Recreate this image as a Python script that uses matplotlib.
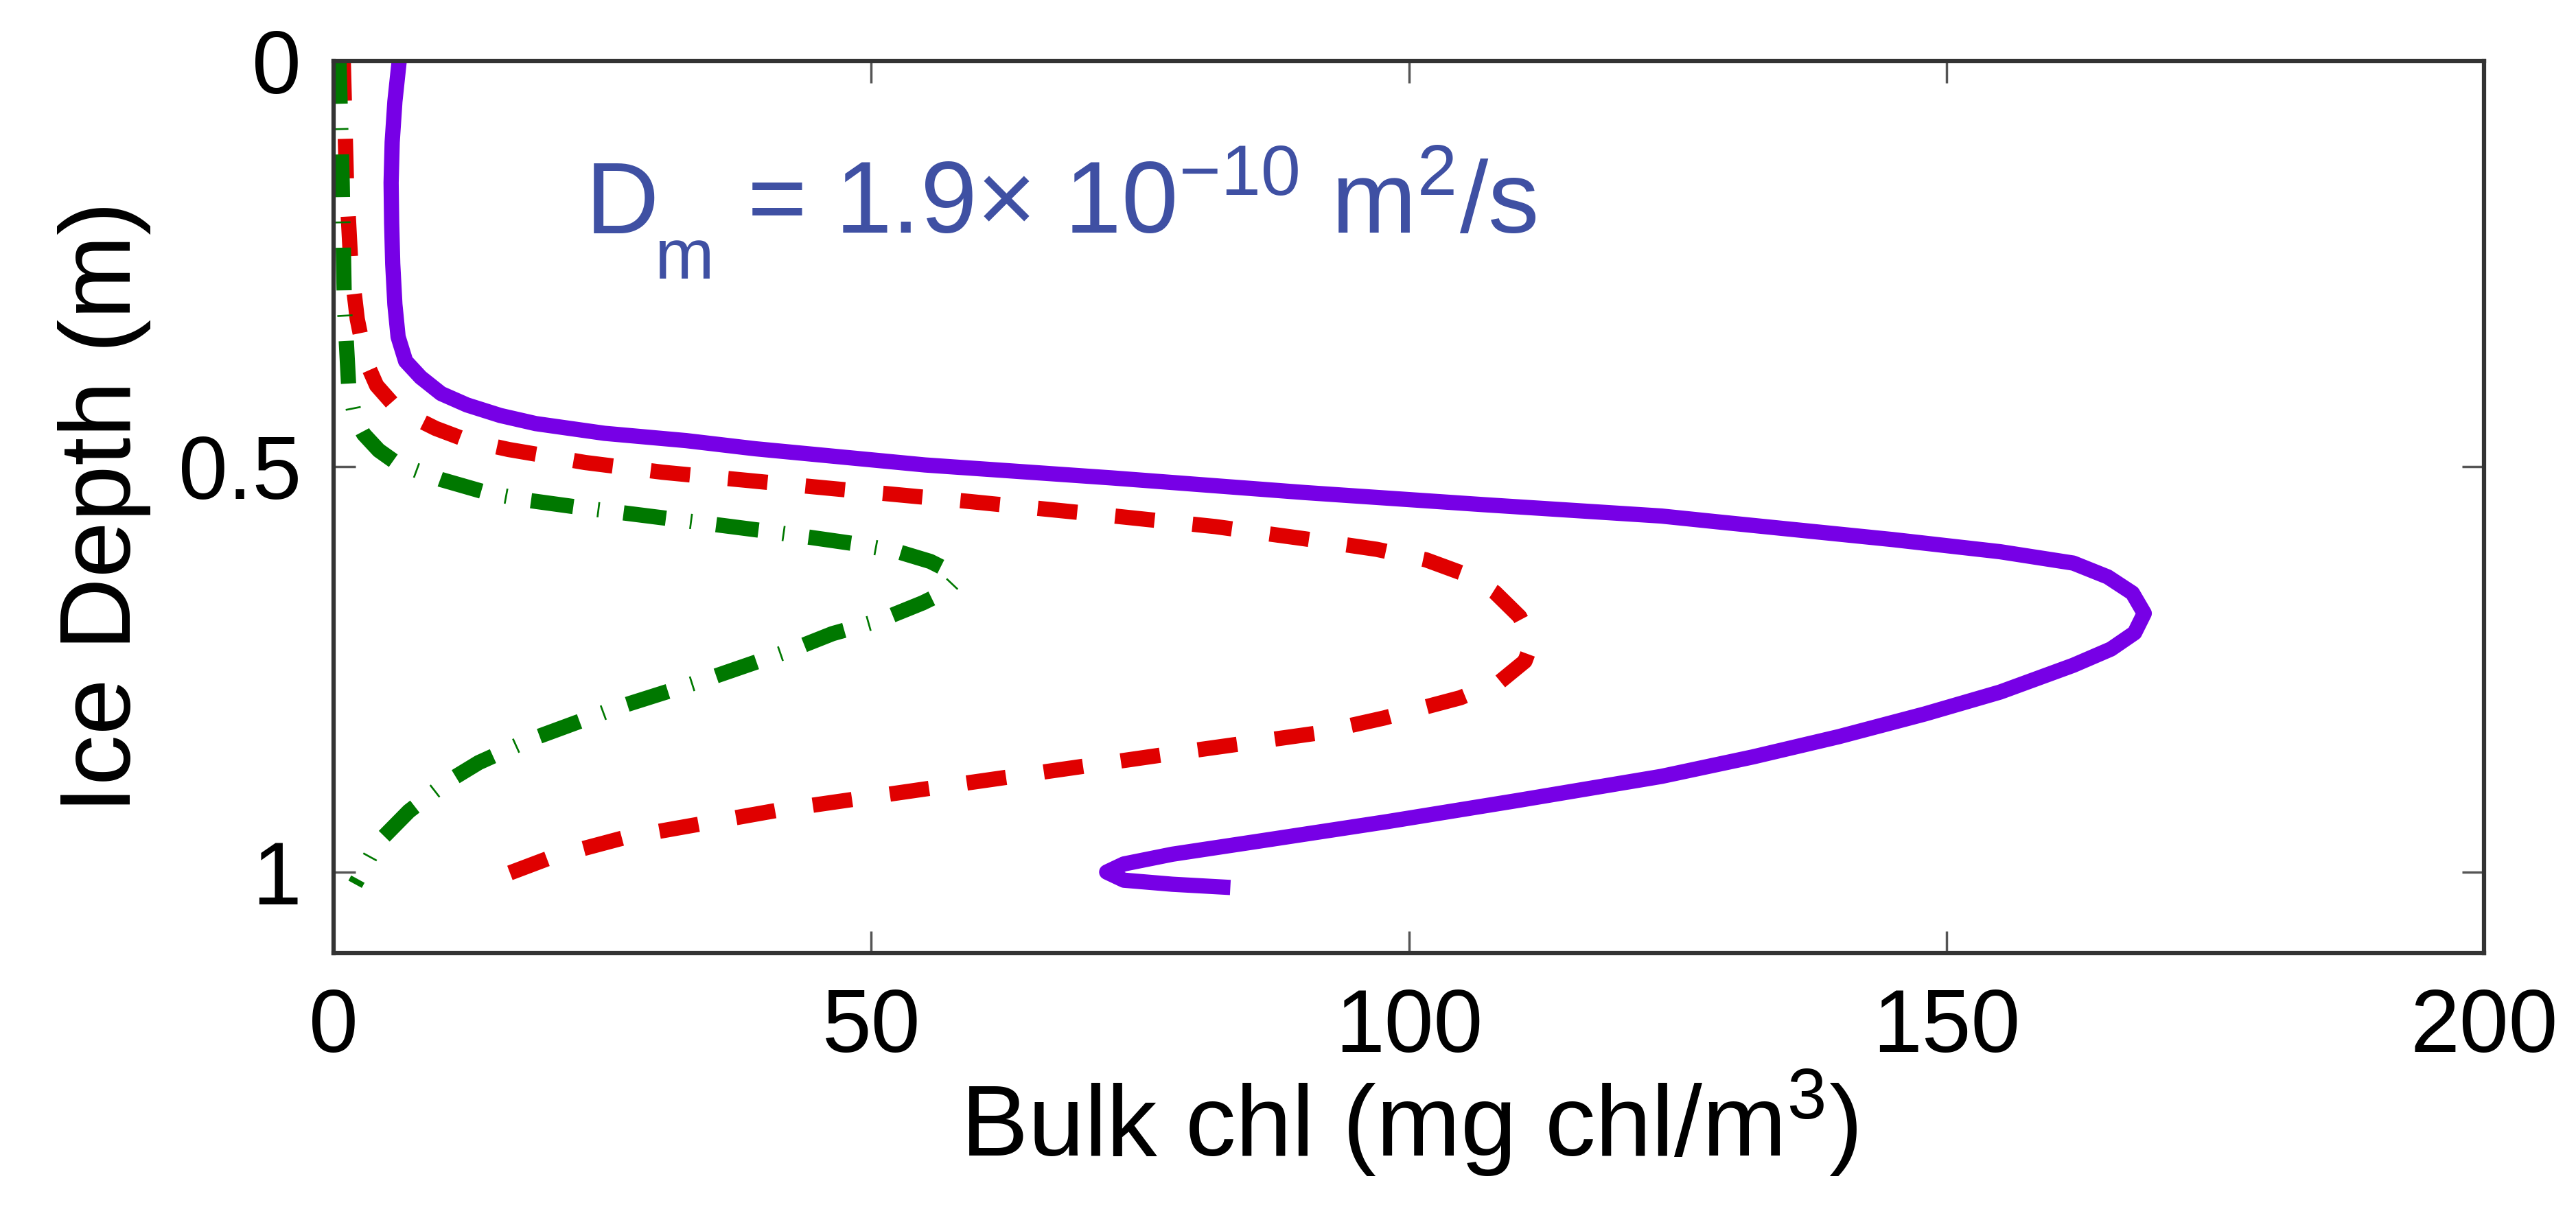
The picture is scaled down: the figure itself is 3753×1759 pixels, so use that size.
import matplotlib
matplotlib.use('Agg')
import matplotlib.pyplot as plt

# Helvetica-like font
plt.rcParams['font.family'] = ['Liberation Sans', 'DejaVu Sans']
plt.rcParams['mathtext.fontset'] = 'custom'
plt.rcParams['mathtext.rm'] = 'Liberation Sans'
plt.rcParams['mathtext.it'] = 'Liberation Sans:italic'

# Bulk chl profiles (x = chl, y = ice depth)
purple_chl = [6.1, 5.7, 5.45, 5.35, 5.4, 5.5, 5.7, 6.0, 6.7, 8.1, 10.0, 12.4, 15.5, 18.8,
              25.2, 32.8, 39.2, 55.0, 72.4, 90.3, 107.0, 123.5, 128.6, 145.0, 155.0,
              161.8, 165.0, 167.3, 168.4, 167.5, 165.3, 161.8, 155.0, 148.0, 140.0,
              132.0, 123.5, 110.0, 97.9, 86.0, 78.0, 73.5, 71.9, 73.5, 78.0, 83.4]
purple_depth = [0.0, 0.05, 0.10, 0.15, 0.20, 0.25, 0.30, 0.34, 0.37, 0.39, 0.41, 0.424,
                0.437, 0.447, 0.459, 0.468, 0.478, 0.498, 0.514, 0.532, 0.547, 0.561,
                0.568, 0.590, 0.605, 0.619, 0.636, 0.656, 0.681, 0.705, 0.725, 0.745,
                0.778, 0.805, 0.833, 0.858, 0.882, 0.912, 0.938, 0.962, 0.978, 0.990,
                1.000, 1.010, 1.015, 1.019]

red_chl = [0.9, 1.2, 1.6, 2.2, 3.0, 4.0, 6.0, 9.5, 12.5, 16.3, 23.4, 30.6, 44.7, 59.1,
           71.9, 82.0, 90.3, 97.0, 101.6, 105.5, 108.0, 110.3, 111.5, 110.8, 108.5,
           104.8, 97.7, 91.3, 80.0, 69.5, 55.3, 41.2, 27.2, 20.4, 14.2]
red_depth = [0.0, 0.15, 0.25, 0.318, 0.37, 0.40, 0.43, 0.453, 0.468, 0.479, 0.495, 0.507,
             0.525, 0.543, 0.560, 0.574, 0.589, 0.602, 0.615, 0.634, 0.655, 0.685, 0.715,
             0.740, 0.765, 0.785, 0.810, 0.829, 0.850, 0.870, 0.897, 0.924, 0.957, 0.981,
             1.012]

green_chl = [0.5, 0.8, 1.0, 1.4, 2.0, 2.8, 4.2, 5.9, 10.0, 14.2, 18.3, 22.7, 31.1, 40.5,
             48.4, 52.5, 55.5, 57.3, 57.8, 56.8, 54.8, 50.7, 46.4, 42.6, 34.5, 26.4, 18.0,
             13.5, 10.4, 7.0, 4.1, 2.0]
green_depth = [0.0, 0.15, 0.30, 0.40, 0.44, 0.460, 0.480, 0.496, 0.516, 0.532, 0.542,
               0.550, 0.564, 0.580, 0.595, 0.605, 0.617, 0.629, 0.641, 0.655, 0.668,
               0.690, 0.706, 0.726, 0.763, 0.797, 0.838, 0.865, 0.890, 0.925, 0.964, 1.015]

x_ticks = [0, 50, 100, 150, 200]
y_ticks = [0, 0.5, 1]
y_ticklabels = ['0', '0.5', '1']

fig = plt.figure(figsize=(37.53, 17.59), dpi=100)
ax = fig.add_axes([0.1295, 0.2103, 0.8348, 0.7391])

lw = 16
ax.plot(purple_chl, purple_depth, color='#7700E6', lw=lw,
        solid_capstyle='butt', solid_joinstyle='round')
ax.plot(red_chl, red_depth, color='#E00000', lw=lw, dashes=(2.6, 2.5),
        dash_capstyle='butt', dash_joinstyle='round')
ax.plot(green_chl, green_depth, color='#007800', lw=lw, dashes=(2.8, 1.6, 0.12, 1.6),
        dash_capstyle='butt', dash_joinstyle='round')

# diffusivity label, subscript drawn on its own so it can sit low like the original
txt_color = '#3F50A3'
ax.text(23.4, 0.212, 'D', color=txt_color, fontsize=107, va='baseline', ha='left')
ax.text(29.8, 0.268, 'm', color=txt_color, fontsize=75, va='baseline', ha='left')
ax.text(38.4, 0.212, r'= 1.9× 10$^{-10}$ m$^{2}$/s', color=txt_color, fontsize=107,
        va='baseline', ha='left')

ax.set_xlim(0, 200)
ax.set_ylim(1.1, 0)
ax.set_xticks(x_ticks)
ax.set_yticks(y_ticks)
ax.set_yticklabels(y_ticklabels)

for s in ax.spines.values():
    s.set_linewidth(4.5)
    s.set_color('#333333')

ax.tick_params(direction='in', length=23, width=2.5, color='#555555',
               top=True, right=True, labelsize=93)
ax.tick_params(axis='x', pad=36)
ax.tick_params(axis='y', pad=34)

ax.set_xlabel('Bulk chl (mg chl/m$^{3}$)', fontsize=106)
ax.set_ylabel('Ice Depth (m)', fontsize=106)
ax.xaxis.set_label_coords(0.5, -0.128)
ax.yaxis.set_label_coords(-0.085, 0.5)

plt.savefig('out.png', dpi=100, facecolor='white')
plt.close()
